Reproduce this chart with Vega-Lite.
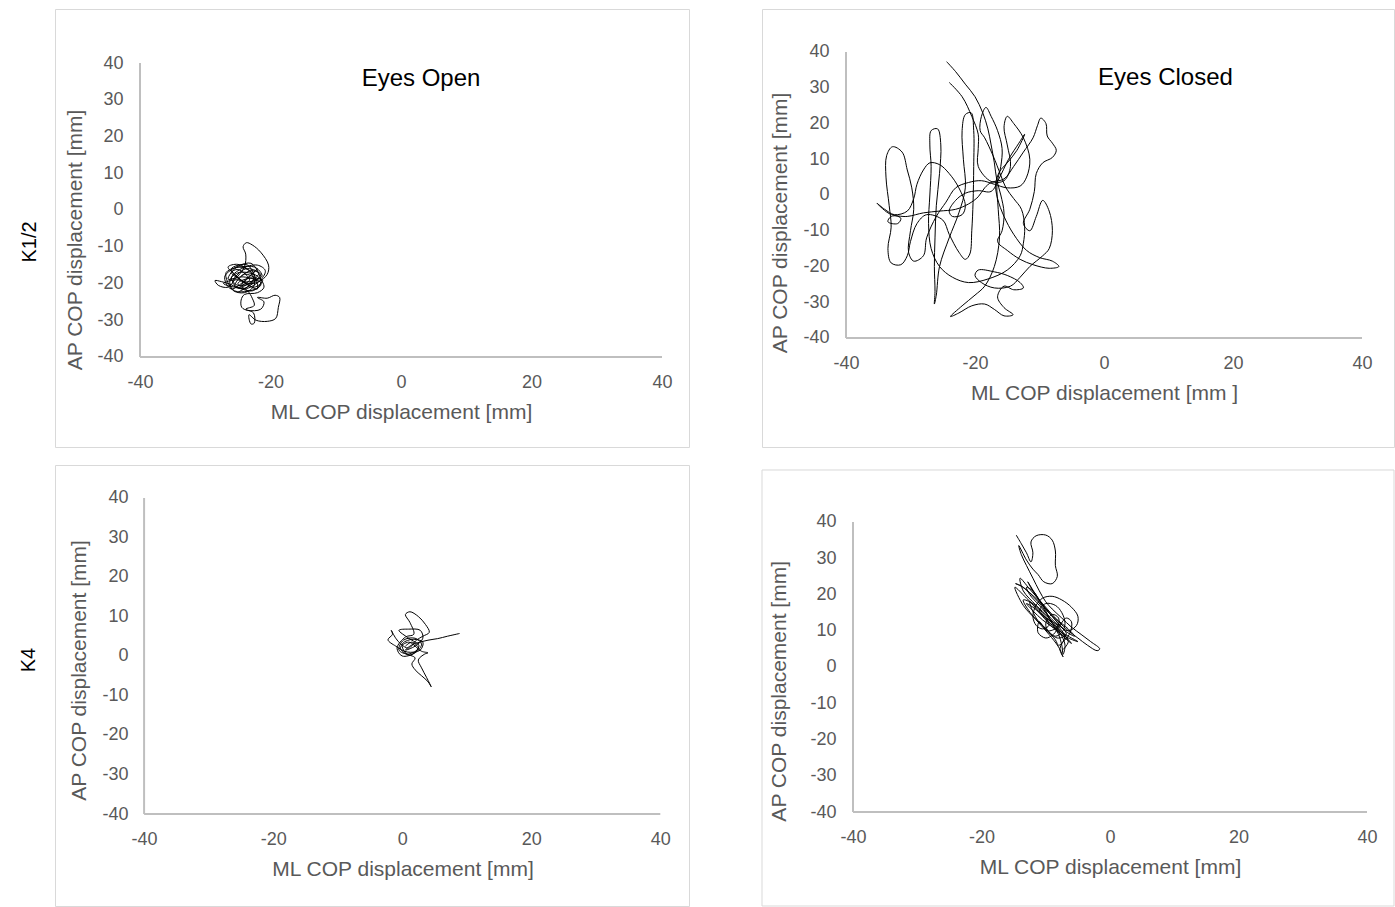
{
  "$schema": "https://vega.github.io/schema/vega-lite/v6.json",
  "background": "white",
  "padding": {"left": 18, "top": 8, "right": 0, "bottom": 0},
  "bounds": "flush",
  "align": "none",
  "columns": 2,
  "spacing": {"row": 18, "column": 73},
  "config": {
    "font": "Liberation Sans",
    "view": {"stroke": "#d9d9d9", "strokeWidth": 1},
    "axis": {"domain": false, "ticks": false, "tickSize": 0, "grid": false, "labelFontSize": 18, "labelColor": "#595959", "titleFontSize": 21, "titleColor": "#595959", "titleFontWeight": "normal", "labelFlush": false, "labelOverlap": false, "titleAlign": "center", "titleBaseline": "alphabetic", "labelExpr": "'' + datum.value"},
    "axisX": {"labelPadding": 30, "labelBaseline": "alphabetic", "titleY": 61, "titleAngle": 0},
    "axisY": {"labelPadding": 17, "labelBaseline": "middle", "titleAngle": 270}
  },
  "datasets": {
    "tl": [
      {"i":1,"x":-24.5,"y":-18.0},{"i":2,"x":-23.0,"y":-16.5},{"i":3,"x":-21.5,"y":-17.5},{"i":4,"x":-22.5,"y":-19.5},{"i":5,"x":-25.0,"y":-20.5},{"i":6,"x":-26.0,"y":-18.5},{"i":7,"x":-24.5,"y":-16.0},{"i":8,"x":-22.0,"y":-15.0},{"i":9,"x":-20.8,"y":-16.5},{"i":10,"x":-21.5,"y":-19.0},
      {"i":11,"x":-24.0,"y":-21.5},{"i":12,"x":-26.5,"y":-20.0},{"i":13,"x":-27.5,"y":-19.5},{"i":14,"x":-28.5,"y":-19.2},{"i":15,"x":-28.0,"y":-20.5},{"i":16,"x":-26.5,"y":-21.0},{"i":17,"x":-25.5,"y":-19.0},{"i":18,"x":-24.0,"y":-15.5},{"i":19,"x":-23.8,"y":-12.0},{"i":20,"x":-24.2,"y":-10.0},
      {"i":21,"x":-23.7,"y":-8.9},{"i":22,"x":-22.8,"y":-9.5},{"i":23,"x":-21.5,"y":-11.5},{"i":24,"x":-20.3,"y":-15.0},{"i":25,"x":-20.5,"y":-17.5},{"i":26,"x":-21.8,"y":-19.5},{"i":27,"x":-23.5,"y":-20.0},{"i":28,"x":-25.5,"y":-17.5},{"i":29,"x":-26.5,"y":-15.5},{"i":30,"x":-25.0,"y":-14.8},
      {"i":31,"x":-23.0,"y":-17.0},{"i":32,"x":-22.5,"y":-20.5},{"i":33,"x":-24.0,"y":-22.5},{"i":34,"x":-25.8,"y":-21.8},{"i":35,"x":-26.2,"y":-19.0},{"i":36,"x":-24.8,"y":-17.0},{"i":37,"x":-22.0,"y":-18.0},{"i":38,"x":-21.0,"y":-21.0},{"i":39,"x":-22.0,"y":-22.5},{"i":40,"x":-24.0,"y":-23.0},
      {"i":41,"x":-24.5,"y":-24.5},{"i":42,"x":-24.4,"y":-26.5},{"i":43,"x":-23.5,"y":-27.3},{"i":44,"x":-21.5,"y":-27.0},{"i":45,"x":-21.0,"y":-25.0},{"i":46,"x":-22.0,"y":-23.8},{"i":47,"x":-20.5,"y":-24.0},{"i":48,"x":-19.3,"y":-23.2},{"i":49,"x":-18.6,"y":-23.8},{"i":50,"x":-18.8,"y":-26.5},
      {"i":51,"x":-19.2,"y":-29.5},{"i":52,"x":-20.5,"y":-30.3},{"i":53,"x":-22.2,"y":-30.0},{"i":54,"x":-23.3,"y":-28.5},{"i":55,"x":-23.0,"y":-31.0},{"i":56,"x":-22.5,"y":-30.8},{"i":57,"x":-22.6,"y":-28.0},{"i":58,"x":-23.8,"y":-27.0},{"i":59,"x":-22.5,"y":-26.0},{"i":60,"x":-22.8,"y":-24.0},
      {"i":61,"x":-23.5,"y":-22.0},{"i":62,"x":-25.0,"y":-20.0},{"i":63,"x":-23.0,"y":-18.5},{"i":64,"x":-21.2,"y":-19.2},{"i":65,"x":-22.5,"y":-21.0},{"i":66,"x":-24.8,"y":-18.8},{"i":67,"x":-26.0,"y":-17.0},{"i":68,"x":-25.0,"y":-16.2},{"i":69,"x":-23.2,"y":-19.0},{"i":70,"x":-24.5,"y":-20.5},
      {"i":71,"x":-22.0,"y":-16.0},{"i":72,"x":-26.0,"y":-21.5},{"i":73,"x":-27.0,"y":-18.0},{"i":74,"x":-23.0,"y":-14.5},{"i":75,"x":-21.5,"y":-20.5},{"i":76,"x":-25.5,"y":-22.0},{"i":77,"x":-26.8,"y":-17.0},{"i":78,"x":-22.5,"y":-15.5},{"i":79,"x":-21.3,"y":-18.0},{"i":80,"x":-24.0,"y":-19.5},
      {"i":81,"x":-26.0,"y":-16.0},{"i":82,"x":-23.5,"y":-15.0},{"i":83,"x":-22.0,"y":-21.5},{"i":84,"x":-25.0,"y":-19.0},{"i":85,"x":-27.2,"y":-20.0},{"i":86,"x":-24.5,"y":-21.0},{"i":87,"x":-21.8,"y":-17.2},{"i":88,"x":-23.8,"y":-16.0},{"i":89,"x":-25.8,"y":-19.8},{"i":90,"x":-22.8,"y":-22.0},
      {"i":91,"x":-21.5,"y":-19.8},{"i":92,"x":-24.2,"y":-18.2},{"i":93,"x":-26.5,"y":-18.8},{"i":94,"x":-25.0,"y":-15.5},{"i":95,"x":-22.5,"y":-17.8},{"i":96,"x":-23.8,"y":-21.2},{"i":97,"x":-25.5,"y":-20.8},{"i":98,"x":-24.0,"y":-17.5},{"i":99,"x":-22.2,"y":-19.0},{"i":100,"x":-24.8,"y":-22.2}
    ],
    "tr": [
      {"i":1,"x":-24.4,"y":37.3},{"i":2,"x":-23.0,"y":34.5},{"i":3,"x":-21.5,"y":31.0},{"i":4,"x":-20.0,"y":27.5},{"i":5,"x":-18.8,"y":23.0},{"i":6,"x":-18.0,"y":18.5},{"i":7,"x":-17.5,"y":14.0},{"i":8,"x":-17.0,"y":9.0},{"i":9,"x":-16.6,"y":4.0},{"i":10,"x":-16.0,"y":0.0},
      {"i":11,"x":-15.5,"y":-5.0},{"i":12,"x":-15.8,"y":-10.0},{"i":13,"x":-16.5,"y":-13.0},{"i":14,"x":-15.0,"y":-15.5},{"i":15,"x":-13.0,"y":-18.0},{"i":16,"x":-11.0,"y":-19.5},{"i":17,"x":-8.5,"y":-20.5},{"i":18,"x":-7.0,"y":-20.0},{"i":19,"x":-8.0,"y":-18.5},{"i":20,"x":-10.0,"y":-17.5},
      {"i":21,"x":-12.0,"y":-15.5},{"i":22,"x":-14.0,"y":-11.0},{"i":23,"x":-15.5,"y":-6.0},{"i":24,"x":-16.5,"y":-1.0},{"i":25,"x":-16.8,"y":3.0},{"i":26,"x":-16.2,"y":6.5},{"i":27,"x":-15.0,"y":9.0},{"i":28,"x":-13.5,"y":12.5},{"i":29,"x":-12.3,"y":17.0},{"i":30,"x":-13.2,"y":14.5},
      {"i":31,"x":-14.8,"y":10.0},{"i":32,"x":-16.3,"y":4.5},{"i":33,"x":-17.5,"y":1.0},{"i":34,"x":-19.5,"y":1.2},{"i":35,"x":-21.5,"y":0.5},{"i":36,"x":-23.0,"y":-1.5},{"i":37,"x":-24.0,"y":-4.5},{"i":38,"x":-23.5,"y":-6.0},{"i":39,"x":-22.0,"y":-5.5},{"i":40,"x":-21.5,"y":-3.0},
      {"i":41,"x":-22.5,"y":2.0},{"i":42,"x":-24.0,"y":6.0},{"i":43,"x":-25.5,"y":8.5},{"i":44,"x":-27.0,"y":9.0},{"i":45,"x":-28.0,"y":7.0},{"i":46,"x":-29.0,"y":3.0},{"i":47,"x":-29.5,"y":-1.0},{"i":48,"x":-30.5,"y":-4.5},{"i":49,"x":-32.5,"y":-5.5},{"i":50,"x":-34.0,"y":-4.0},
      {"i":51,"x":-35.2,"y":-2.3},{"i":52,"x":-33.5,"y":-5.0},{"i":53,"x":-31.5,"y":-6.5},{"i":54,"x":-32.0,"y":-8.0},{"i":55,"x":-33.5,"y":-7.5},{"i":56,"x":-33.0,"y":-6.0},{"i":57,"x":-30.5,"y":-6.0},{"i":58,"x":-28.0,"y":-5.0},{"i":59,"x":-25.5,"y":-4.5},{"i":60,"x":-23.0,"y":-4.0},
      {"i":61,"x":-21.0,"y":-2.5},{"i":62,"x":-19.5,"y":-0.5},{"i":63,"x":-18.5,"y":2.0},{"i":64,"x":-17.5,"y":3.5},{"i":65,"x":-15.5,"y":4.5},{"i":66,"x":-14.0,"y":8.0},{"i":67,"x":-12.5,"y":12.0},{"i":68,"x":-11.0,"y":16.0},{"i":69,"x":-10.3,"y":19.5},{"i":70,"x":-9.8,"y":21.5},
      {"i":71,"x":-9.0,"y":20.0},{"i":72,"x":-8.8,"y":16.5},{"i":73,"x":-8.0,"y":14.5},{"i":74,"x":-7.4,"y":12.5},{"i":75,"x":-8.0,"y":10.5},{"i":76,"x":-9.5,"y":9.0},{"i":77,"x":-10.5,"y":6.0},{"i":78,"x":-10.8,"y":1.0},{"i":79,"x":-11.5,"y":-4.0},{"i":80,"x":-12.5,"y":-8.0},
      {"i":81,"x":-11.5,"y":-10.0},{"i":82,"x":-10.5,"y":-6.0},{"i":83,"x":-9.5,"y":-1.5},{"i":84,"x":-8.5,"y":-4.5},{"i":85,"x":-8.0,"y":-10.0},{"i":86,"x":-8.5,"y":-15.0},{"i":87,"x":-9.5,"y":-17.0},{"i":88,"x":-11.5,"y":-20.0},{"i":89,"x":-13.0,"y":-23.0},{"i":90,"x":-14.5,"y":-25.5},
      {"i":91,"x":-17.0,"y":-26.0},{"i":92,"x":-19.0,"y":-24.5},{"i":93,"x":-20.0,"y":-22.5},{"i":94,"x":-19.5,"y":-21.0},{"i":95,"x":-17.0,"y":-21.5},{"i":96,"x":-15.0,"y":-22.5},{"i":97,"x":-13.0,"y":-24.5},{"i":98,"x":-12.5,"y":-26.0},{"i":99,"x":-14.0,"y":-26.5},{"i":100,"x":-15.5,"y":-25.5},
      {"i":101,"x":-16.5,"y":-28.5},{"i":102,"x":-15.5,"y":-31.5},{"i":103,"x":-14.1,"y":-33.5},{"i":104,"x":-15.5,"y":-33.8},{"i":105,"x":-17.0,"y":-32.0},{"i":106,"x":-18.5,"y":-30.5},{"i":107,"x":-20.5,"y":-31.0},{"i":108,"x":-22.5,"y":-33.0},{"i":109,"x":-23.8,"y":-34.0},{"i":110,"x":-22.0,"y":-31.0},
      {"i":111,"x":-20.0,"y":-28.0},{"i":112,"x":-18.5,"y":-25.5},{"i":113,"x":-17.0,"y":-20.0},{"i":114,"x":-16.2,"y":-12.0},{"i":115,"x":-16.4,"y":-4.0},{"i":116,"x":-16.6,"y":3.0},{"i":117,"x":-16.0,"y":8.0},{"i":118,"x":-15.8,"y":13.0},{"i":119,"x":-16.5,"y":18.0},{"i":120,"x":-17.5,"y":22.0},
      {"i":121,"x":-18.3,"y":24.5},{"i":122,"x":-19.0,"y":22.0},{"i":123,"x":-19.2,"y":18.0},{"i":124,"x":-18.5,"y":16.0},{"i":125,"x":-17.2,"y":11.0},{"i":126,"x":-16.0,"y":5.5},{"i":127,"x":-15.2,"y":2.0},{"i":128,"x":-14.0,"y":-1.0},{"i":129,"x":-12.8,"y":-4.0},{"i":130,"x":-12.3,"y":-9.0},
      {"i":131,"x":-12.5,"y":-13.5},{"i":132,"x":-13.0,"y":-17.0},{"i":133,"x":-15.0,"y":-21.0},{"i":134,"x":-18.0,"y":-23.5},{"i":135,"x":-21.0,"y":-24.5},{"i":136,"x":-23.5,"y":-23.0},{"i":137,"x":-25.5,"y":-20.0},{"i":138,"x":-26.8,"y":-15.0},{"i":139,"x":-27.2,"y":-8.0},{"i":140,"x":-27.0,"y":0.0},
      {"i":141,"x":-26.8,"y":8.0},{"i":142,"x":-27.0,"y":14.0},{"i":143,"x":-26.8,"y":18.0},{"i":144,"x":-25.8,"y":18.5},{"i":145,"x":-25.3,"y":14.0},{"i":146,"x":-25.5,"y":6.0},{"i":147,"x":-26.0,"y":-3.0},{"i":148,"x":-26.2,"y":-12.0},{"i":149,"x":-26.3,"y":-20.0},{"i":150,"x":-26.2,"y":-27.0},
      {"i":151,"x":-26.3,"y":-30.5},{"i":152,"x":-26.0,"y":-28.0},{"i":153,"x":-25.5,"y":-20.0},{"i":154,"x":-24.0,"y":-12.0},{"i":155,"x":-22.5,"y":-5.0},{"i":156,"x":-21.5,"y":2.0},{"i":157,"x":-21.8,"y":10.0},{"i":158,"x":-22.0,"y":18.0},{"i":159,"x":-21.5,"y":22.5},{"i":160,"x":-20.6,"y":23.0},
      {"i":161,"x":-20.2,"y":18.0},{"i":162,"x":-20.2,"y":8.0},{"i":163,"x":-20.3,"y":-2.0},{"i":164,"x":-20.5,"y":-10.0},{"i":165,"x":-20.8,"y":-16.5},{"i":166,"x":-21.5,"y":-18.0},{"i":167,"x":-22.5,"y":-16.0},{"i":168,"x":-24.0,"y":-11.0},{"i":169,"x":-25.0,"y":-7.0},{"i":170,"x":-27.5,"y":-5.5},
      {"i":171,"x":-29.0,"y":-8.0},{"i":172,"x":-30.0,"y":-13.0},{"i":173,"x":-30.5,"y":-17.0},{"i":174,"x":-31.5,"y":-19.5},{"i":175,"x":-33.0,"y":-19.0},{"i":176,"x":-33.5,"y":-15.0},{"i":177,"x":-33.0,"y":-9.0},{"i":178,"x":-33.3,"y":-3.0},{"i":179,"x":-33.8,"y":5.0},{"i":180,"x":-33.7,"y":11.0},
      {"i":181,"x":-32.8,"y":13.5},{"i":182,"x":-31.3,"y":12.0},{"i":183,"x":-30.5,"y":7.0},{"i":184,"x":-29.8,"y":2.0},{"i":185,"x":-29.5,"y":-4.0},{"i":186,"x":-30.0,"y":-10.0},{"i":187,"x":-30.3,"y":-16.0},{"i":188,"x":-29.5,"y":-18.5},{"i":189,"x":-28.0,"y":-17.0},{"i":190,"x":-27.5,"y":-12.0},
      {"i":191,"x":-26.0,"y":-6.0},{"i":192,"x":-24.5,"y":-2.0},{"i":193,"x":-23.0,"y":2.0},{"i":194,"x":-21.0,"y":3.5},{"i":195,"x":-19.0,"y":4.0},{"i":196,"x":-17.0,"y":3.0},{"i":197,"x":-15.0,"y":2.0},{"i":198,"x":-13.0,"y":2.5},{"i":199,"x":-12.0,"y":5.0},{"i":200,"x":-11.5,"y":10.0},
      {"i":201,"x":-12.5,"y":16.0},{"i":202,"x":-14.0,"y":20.0},{"i":203,"x":-15.0,"y":22.0},{"i":204,"x":-15.5,"y":19.0},{"i":205,"x":-15.0,"y":14.0},{"i":206,"x":-14.5,"y":8.0},{"i":207,"x":-15.5,"y":4.0},{"i":208,"x":-17.5,"y":3.8},{"i":209,"x":-19.5,"y":8.0},{"i":210,"x":-19.5,"y":13.0},
      {"i":211,"x":-19.5,"y":17.0},{"i":212,"x":-20.5,"y":22.0},{"i":213,"x":-22.0,"y":27.5},{"i":214,"x":-24.0,"y":31.5}
    ],
    "bl": [
      {"i":1,"x":0.5,"y":2.5},{"i":2,"x":1.5,"y":3.5},{"i":3,"x":2.5,"y":2.0},{"i":4,"x":1.0,"y":0.5},{"i":5,"x":-0.5,"y":1.5},{"i":6,"x":0.2,"y":4.0},{"i":7,"x":2.0,"y":4.5},{"i":8,"x":3.0,"y":3.0},{"i":9,"x":2.0,"y":0.8},{"i":10,"x":0.0,"y":0.0},
      {"i":11,"x":-0.8,"y":2.0},{"i":12,"x":0.5,"y":4.8},{"i":13,"x":1.8,"y":5.5},{"i":14,"x":1.2,"y":8.5},{"i":15,"x":0.5,"y":10.5},{"i":16,"x":1.2,"y":11.2},{"i":17,"x":2.5,"y":10.0},{"i":18,"x":3.6,"y":8.0},{"i":19,"x":4.2,"y":6.0},{"i":20,"x":3.2,"y":5.0},
      {"i":21,"x":2.2,"y":4.0},{"i":22,"x":1.0,"y":2.0},{"i":23,"x":-0.2,"y":3.0},{"i":24,"x":-1.0,"y":4.5},{"i":25,"x":-1.7,"y":6.5},{"i":26,"x":-1.5,"y":5.5},{"i":27,"x":-2.2,"y":4.1},{"i":28,"x":-1.0,"y":2.5},{"i":29,"x":0.8,"y":1.0},{"i":30,"x":2.8,"y":1.5},
      {"i":31,"x":3.2,"y":3.5},{"i":32,"x":1.5,"y":4.2},{"i":33,"x":0.0,"y":3.0},{"i":34,"x":0.5,"y":0.8},{"i":35,"x":2.0,"y":-0.5},{"i":36,"x":1.5,"y":-2.0},{"i":37,"x":2.0,"y":-3.5},{"i":38,"x":3.0,"y":-5.0},{"i":39,"x":4.0,"y":-6.5},{"i":40,"x":4.5,"y":-7.8},
      {"i":41,"x":3.8,"y":-5.5},{"i":42,"x":3.0,"y":-3.0},{"i":43,"x":2.5,"y":-1.0},{"i":44,"x":3.5,"y":0.5},{"i":45,"x":4.0,"y":0.8},{"i":46,"x":3.0,"y":1.2},{"i":47,"x":1.0,"y":3.5},{"i":48,"x":-0.3,"y":2.0},{"i":49,"x":1.2,"y":0.2},{"i":50,"x":2.6,"y":2.6},
      {"i":51,"x":1.0,"y":4.5},{"i":52,"x":-0.5,"y":6.5},{"i":53,"x":1.0,"y":6.8},{"i":54,"x":2.8,"y":6.5},{"i":55,"x":3.2,"y":4.5},{"i":56,"x":2.0,"y":2.5},{"i":57,"x":0.5,"y":1.5},{"i":58,"x":1.5,"y":2.8},{"i":59,"x":4.0,"y":4.0},{"i":60,"x":5.5,"y":4.4},
      {"i":61,"x":7.0,"y":5.0},{"i":62,"x":8.9,"y":5.7}
    ],
    "br": [
      {"i":1,"x":-14.6,"y":36.4},{"i":2,"x":-13.8,"y":34.0},{"i":3,"x":-13.0,"y":31.5},{"i":4,"x":-12.3,"y":29.0},{"i":5,"x":-12.0,"y":31.5},{"i":6,"x":-12.3,"y":34.5},{"i":7,"x":-11.5,"y":36.2},{"i":8,"x":-10.0,"y":36.4},{"i":9,"x":-9.0,"y":35.0},{"i":10,"x":-8.5,"y":32.0},
      {"i":11,"x":-8.5,"y":28.0},{"i":12,"x":-8.2,"y":25.0},{"i":13,"x":-9.0,"y":23.0},{"i":14,"x":-10.3,"y":23.5},{"i":15,"x":-11.2,"y":25.5},{"i":16,"x":-12.0,"y":27.0},{"i":17,"x":-13.0,"y":29.5},{"i":18,"x":-14.2,"y":33.5},{"i":19,"x":-13.8,"y":31.0},{"i":20,"x":-13.0,"y":28.0},
      {"i":21,"x":-12.0,"y":24.5},{"i":22,"x":-11.0,"y":21.0},{"i":23,"x":-10.0,"y":18.0},{"i":24,"x":-9.0,"y":16.0},{"i":25,"x":-7.5,"y":13.5},{"i":26,"x":-6.0,"y":11.0},{"i":27,"x":-4.5,"y":9.0},{"i":28,"x":-3.0,"y":7.0},{"i":29,"x":-1.6,"y":5.0},{"i":30,"x":-2.0,"y":4.5},
      {"i":31,"x":-3.5,"y":6.0},{"i":32,"x":-5.0,"y":8.0},{"i":33,"x":-6.5,"y":10.0},{"i":34,"x":-8.0,"y":12.5},{"i":35,"x":-9.5,"y":15.0},{"i":36,"x":-11.0,"y":18.0},{"i":37,"x":-12.5,"y":20.5},{"i":38,"x":-14.0,"y":22.5},{"i":39,"x":-14.7,"y":23.0},{"i":40,"x":-13.5,"y":22.0},
      {"i":41,"x":-12.0,"y":19.5},{"i":42,"x":-10.5,"y":16.5},{"i":43,"x":-9.5,"y":13.5},{"i":44,"x":-8.5,"y":11.0},{"i":45,"x":-7.5,"y":8.5},{"i":46,"x":-7.0,"y":6.0},{"i":47,"x":-7.3,"y":3.5},{"i":48,"x":-7.5,"y":6.0},{"i":49,"x":-8.0,"y":9.0},{"i":50,"x":-9.0,"y":12.0},
      {"i":51,"x":-10.0,"y":15.5},{"i":52,"x":-11.0,"y":18.5},{"i":53,"x":-12.0,"y":21.0},{"i":54,"x":-13.0,"y":22.0},{"i":55,"x":-12.5,"y":20.0},{"i":56,"x":-11.0,"y":17.0},{"i":57,"x":-9.5,"y":14.0},{"i":58,"x":-8.0,"y":11.5},{"i":59,"x":-6.5,"y":10.0},{"i":60,"x":-5.2,"y":11.5},
      {"i":61,"x":-5.0,"y":14.0},{"i":62,"x":-6.0,"y":16.5},{"i":63,"x":-7.5,"y":18.5},{"i":64,"x":-9.0,"y":19.5},{"i":65,"x":-10.5,"y":19.0},{"i":66,"x":-11.5,"y":17.0},{"i":67,"x":-12.0,"y":14.0},{"i":68,"x":-11.5,"y":11.5},{"i":69,"x":-10.5,"y":10.5},{"i":70,"x":-9.5,"y":11.5},
      {"i":71,"x":-10.0,"y":13.5},{"i":72,"x":-11.0,"y":15.5},{"i":73,"x":-10.0,"y":17.5},{"i":74,"x":-8.5,"y":17.0},{"i":75,"x":-7.5,"y":15.0},{"i":76,"x":-7.0,"y":12.0},{"i":77,"x":-7.5,"y":9.5},{"i":78,"x":-8.5,"y":8.5},{"i":79,"x":-9.5,"y":9.5},{"i":80,"x":-10.0,"y":12.0},
      {"i":81,"x":-9.0,"y":14.5},{"i":82,"x":-8.0,"y":13.5},{"i":83,"x":-8.2,"y":11.0},{"i":84,"x":-9.8,"y":10.0},{"i":85,"x":-11.0,"y":12.5},{"i":86,"x":-11.2,"y":9.5},{"i":87,"x":-10.0,"y":8.0},{"i":88,"x":-8.8,"y":9.0},{"i":89,"x":-7.8,"y":11.5},{"i":90,"x":-6.8,"y":13.5},
      {"i":91,"x":-6.0,"y":12.5},{"i":92,"x":-6.2,"y":9.5},{"i":93,"x":-7.0,"y":7.5},{"i":94,"x":-8.0,"y":6.0},{"i":95,"x":-8.5,"y":7.5},{"i":96,"x":-10.0,"y":10.5},{"i":97,"x":-11.5,"y":13.5},{"i":98,"x":-12.5,"y":18.0},{"i":99,"x":-11.0,"y":15.0},{"i":100,"x":-9.5,"y":12.0},
      {"i":101,"x":-8.0,"y":9.5},{"i":102,"x":-6.5,"y":8.0},{"i":103,"x":-5.0,"y":7.0},{"i":104,"x":-6.5,"y":8.5},{"i":105,"x":-8.5,"y":10.5},{"i":106,"x":-10.5,"y":13.0},{"i":107,"x":-12.0,"y":15.5},{"i":108,"x":-13.0,"y":17.5},{"i":109,"x":-12.0,"y":16.5},{"i":110,"x":-10.0,"y":13.5},
      {"i":111,"x":-8.5,"y":12.0},{"i":112,"x":-7.5,"y":10.0},{"i":113,"x":-7.0,"y":8.5},{"i":114,"x":-7.8,"y":5.0},{"i":115,"x":-7.3,"y":2.8},{"i":116,"x":-8.0,"y":5.5},{"i":117,"x":-9.5,"y":9.0},{"i":118,"x":-11.5,"y":13.0},{"i":119,"x":-13.5,"y":17.0},{"i":120,"x":-14.8,"y":22.0},
      {"i":121,"x":-13.0,"y":19.0},{"i":122,"x":-11.0,"y":15.5},{"i":123,"x":-9.0,"y":11.5},{"i":124,"x":-7.0,"y":8.0},{"i":125,"x":-6.0,"y":6.5},{"i":126,"x":-7.5,"y":9.5},{"i":127,"x":-9.5,"y":13.0},{"i":128,"x":-11.5,"y":17.0},{"i":129,"x":-13.5,"y":21.0},{"i":130,"x":-14.0,"y":24.5},
      {"i":131,"x":-12.5,"y":21.5},{"i":132,"x":-10.5,"y":17.5},{"i":133,"x":-8.5,"y":13.5},{"i":134,"x":-6.5,"y":10.5},{"i":135,"x":-5.5,"y":8.5},{"i":136,"x":-7.0,"y":10.0},{"i":137,"x":-9.0,"y":14.0},{"i":138,"x":-11.0,"y":18.5},{"i":139,"x":-12.8,"y":23.5},{"i":140,"x":-11.5,"y":19.5},
      {"i":141,"x":-9.8,"y":15.5},{"i":142,"x":-8.0,"y":12.0},{"i":143,"x":-6.8,"y":9.0},{"i":144,"x":-8.2,"y":8.0},{"i":145,"x":-10.2,"y":11.0},{"i":146,"x":-12.2,"y":14.5},{"i":147,"x":-13.5,"y":18.5},{"i":148,"x":-12.0,"y":17.5},{"i":149,"x":-10.0,"y":14.5},{"i":150,"x":-8.0,"y":10.5},
      {"i":151,"x":-6.5,"y":7.0},{"i":152,"x":-7.5,"y":4.5}
    ]
  },
  "concat": [
    {
      "width": 634, "height": 438,
      "layer": [
        {"data": {"name": "tl"},
         "mark": {"type": "line", "color": "#000000", "strokeWidth": 1, "interpolate": "catmull-rom"},
         "encoding": {
           "x": {"field": "x", "type": "quantitative", "scale": {"domain": [-53.027, 44.138], "nice": false, "zero": false}, "axis": {"title": "ML COP displacement [mm]", "values": [-40, -20, 0, 20, 40], "offset": -90, "titleX": 346}},
           "y": {"field": "y", "type": "quantitative", "scale": {"domain": [-64.49, 54.694], "nice": false, "zero": false}, "axis": {"title": "AP COP displacement [mm]", "values": [-40, -30, -20, -10, 0, 10, 20, 30, 40], "offset": -85, "titleX": -58.3, "titleY": 230.5}},
           "order": {"field": "i", "type": "quantitative"}
         }},
        {"data": {"values": [{}]},
         "mark": {"type": "rule", "color": "#bfbfbf", "strokeWidth": 2},
         "encoding": {
           "x": {"datum": -40, "type": "quantitative", "scale": {"domain": [-53.027, 44.138], "nice": false, "zero": false}, "axis": {"title": "ML COP displacement [mm]", "values": [-40, -20, 0, 20, 40], "offset": -90, "titleX": 346}},
           "y": {"datum": -40, "type": "quantitative", "scale": {"domain": [-64.49, 54.694], "nice": false, "zero": false}, "axis": {"title": "AP COP displacement [mm]", "values": [-40, -30, -20, -10, 0, 10, 20, 30, 40], "offset": -85, "titleX": -58.3, "titleY": 230.5}},
           "y2": {"datum": 40}
         }},
        {"data": {"values": [{}]},
         "mark": {"type": "rule", "color": "#bfbfbf", "strokeWidth": 2},
         "encoding": {
           "x": {"datum": -40, "type": "quantitative", "scale": {"domain": [-53.027, 44.138], "nice": false, "zero": false}, "axis": {"title": "ML COP displacement [mm]", "values": [-40, -20, 0, 20, 40], "offset": -90, "titleX": 346}},
           "x2": {"datum": 40},
           "y": {"datum": -40, "type": "quantitative", "scale": {"domain": [-64.49, 54.694], "nice": false, "zero": false}, "axis": {"title": "AP COP displacement [mm]", "values": [-40, -30, -20, -10, 0, 10, 20, 30, 40], "offset": -85, "titleX": -58.3, "titleY": 230.5}}
         }},
        {"data": {"values": [{}]},
         "mark": {"type": "text", "text": "Eyes Open", "fontSize": 24, "align": "center", "baseline": "alphabetic", "color": "#000000"},
         "encoding": {
           "x": {"datum": 3.07, "type": "quantitative", "scale": {"domain": [-53.027, 44.138], "nice": false, "zero": false}, "axis": {"title": "ML COP displacement [mm]", "values": [-40, -20, 0, 20, 40], "offset": -90, "titleX": 346}},
           "y": {"datum": 33.74, "type": "quantitative", "scale": {"domain": [-64.49, 54.694], "nice": false, "zero": false}, "axis": {"title": "AP COP displacement [mm]", "values": [-40, -30, -20, -10, 0, 10, 20, 30, 40], "offset": -85, "titleX": -58.3, "titleY": 230.5}}
         }},
        {"data": {"values": [{}]},
         "mark": {"type": "text", "text": "K1/2", "fontSize": 20, "angle": 270, "align": "center", "baseline": "middle", "color": "#000000"},
         "encoding": {
           "x": {"datum": -56.86, "type": "quantitative", "scale": {"domain": [-53.027, 44.138], "nice": false, "zero": false}, "axis": {"title": "ML COP displacement [mm]", "values": [-40, -20, 0, 20, 40], "offset": -90, "titleX": 346}},
           "y": {"datum": -8.71, "type": "quantitative", "scale": {"domain": [-64.49, 54.694], "nice": false, "zero": false}, "axis": {"title": "AP COP displacement [mm]", "values": [-40, -30, -20, -10, 0, 10, 20, 30, 40], "offset": -85, "titleX": -58.3, "titleY": 230.5}}
         }}
      ]
    },
    {
      "width": 632, "height": 438,
      "layer": [
        {"data": {"name": "tr"},
         "mark": {"type": "line", "color": "#000000", "strokeWidth": 1, "interpolate": "catmull-rom"},
         "encoding": {
           "x": {"field": "x", "type": "quantitative", "scale": {"domain": [-53.023, 44.961], "nice": false, "zero": false}, "axis": {"title": "ML COP displacement [mm ]", "values": [-40, -20, 0, 20, 40], "offset": -109, "titleX": 342}},
           "y": {"field": "y", "type": "quantitative", "scale": {"domain": [-70.49, 52.028], "nice": false, "zero": false}, "axis": {"title": "AP COP displacement [mm]", "values": [-40, -30, -20, -10, 0, 10, 20, 30, 40], "offset": -84, "titleX": -59.3, "titleY": 213.5}},
           "order": {"field": "i", "type": "quantitative"}
         }},
        {"data": {"values": [{}]},
         "mark": {"type": "rule", "color": "#bfbfbf", "strokeWidth": 2},
         "encoding": {
           "x": {"datum": -40, "type": "quantitative", "scale": {"domain": [-53.023, 44.961], "nice": false, "zero": false}, "axis": {"title": "ML COP displacement [mm ]", "values": [-40, -20, 0, 20, 40], "offset": -109, "titleX": 342}},
           "y": {"datum": -40, "type": "quantitative", "scale": {"domain": [-70.49, 52.028], "nice": false, "zero": false}, "axis": {"title": "AP COP displacement [mm]", "values": [-40, -30, -20, -10, 0, 10, 20, 30, 40], "offset": -84, "titleX": -59.3, "titleY": 213.5}},
           "y2": {"datum": 40}
         }},
        {"data": {"values": [{}]},
         "mark": {"type": "rule", "color": "#bfbfbf", "strokeWidth": 2},
         "encoding": {
           "x": {"datum": -40, "type": "quantitative", "scale": {"domain": [-53.023, 44.961], "nice": false, "zero": false}, "axis": {"title": "ML COP displacement [mm ]", "values": [-40, -20, 0, 20, 40], "offset": -109, "titleX": 342}},
           "x2": {"datum": 40},
           "y": {"datum": -40, "type": "quantitative", "scale": {"domain": [-70.49, 52.028], "nice": false, "zero": false}, "axis": {"title": "AP COP displacement [mm]", "values": [-40, -30, -20, -10, 0, 10, 20, 30, 40], "offset": -84, "titleX": -59.3, "titleY": 213.5}}
         }},
        {"data": {"values": [{}]},
         "mark": {"type": "text", "text": "Eyes Closed", "fontSize": 24, "align": "center", "baseline": "alphabetic", "color": "#000000"},
         "encoding": {
           "x": {"datum": 9.53, "type": "quantitative", "scale": {"domain": [-53.023, 44.961], "nice": false, "zero": false}, "axis": {"title": "ML COP displacement [mm ]", "values": [-40, -20, 0, 20, 40], "offset": -109, "titleX": 342}},
           "y": {"datum": 30.77, "type": "quantitative", "scale": {"domain": [-70.49, 52.028], "nice": false, "zero": false}, "axis": {"title": "AP COP displacement [mm]", "values": [-40, -30, -20, -10, 0, 10, 20, 30, 40], "offset": -84, "titleX": -59.3, "titleY": 213.5}}
         }}
      ]
    },
    {
      "width": 634, "height": 441,
      "layer": [
        {"data": {"name": "bl"},
         "mark": {"type": "line", "color": "#000000", "strokeWidth": 1, "interpolate": "catmull-rom"},
         "encoding": {
           "x": {"field": "x", "type": "quantitative", "scale": {"domain": [-53.806, 44.449], "nice": false, "zero": false}, "axis": {"title": "ML COP displacement [mm]", "values": [-40, -20, 0, 20, 40], "offset": -92, "titleX": 347.5}},
           "y": {"field": "y", "type": "quantitative", "scale": {"domain": [-63.291, 48.354], "nice": false, "zero": false}, "axis": {"title": "AP COP displacement [mm]", "values": [-40, -30, -20, -10, 0, 10, 20, 30, 40], "offset": -90, "titleX": -60, "titleY": 205}},
           "order": {"field": "i", "type": "quantitative"}
         }},
        {"data": {"values": [{}]},
         "mark": {"type": "rule", "color": "#bfbfbf", "strokeWidth": 2},
         "encoding": {
           "x": {"datum": -40, "type": "quantitative", "scale": {"domain": [-53.806, 44.449], "nice": false, "zero": false}, "axis": {"title": "ML COP displacement [mm]", "values": [-40, -20, 0, 20, 40], "offset": -92, "titleX": 347.5}},
           "y": {"datum": -40, "type": "quantitative", "scale": {"domain": [-63.291, 48.354], "nice": false, "zero": false}, "axis": {"title": "AP COP displacement [mm]", "values": [-40, -30, -20, -10, 0, 10, 20, 30, 40], "offset": -90, "titleX": -60, "titleY": 205}},
           "y2": {"datum": 40}
         }},
        {"data": {"values": [{}]},
         "mark": {"type": "rule", "color": "#bfbfbf", "strokeWidth": 2},
         "encoding": {
           "x": {"datum": -40, "type": "quantitative", "scale": {"domain": [-53.806, 44.449], "nice": false, "zero": false}, "axis": {"title": "ML COP displacement [mm]", "values": [-40, -20, 0, 20, 40], "offset": -92, "titleX": 347.5}},
           "x2": {"datum": 40},
           "y": {"datum": -40, "type": "quantitative", "scale": {"domain": [-63.291, 48.354], "nice": false, "zero": false}, "axis": {"title": "AP COP displacement [mm]", "values": [-40, -30, -20, -10, 0, 10, 20, 30, 40], "offset": -90, "titleX": -60, "titleY": 205}}
         }},
        {"data": {"values": [{}]},
         "mark": {"type": "text", "text": "K4", "fontSize": 20, "angle": 270, "align": "center", "baseline": "middle", "color": "#000000"},
         "encoding": {
           "x": {"datum": -57.86, "type": "quantitative", "scale": {"domain": [-53.806, 44.449], "nice": false, "zero": false}, "axis": {"title": "ML COP displacement [mm]", "values": [-40, -20, 0, 20, 40], "offset": -92, "titleX": 347.5}},
           "y": {"datum": -1.01, "type": "quantitative", "scale": {"domain": [-63.291, 48.354], "nice": false, "zero": false}, "axis": {"title": "AP COP displacement [mm]", "values": [-40, -30, -20, -10, 0, 10, 20, 30, 40], "offset": -90, "titleX": -60, "titleY": 205}}
         }}
      ]
    },
    {
      "width": 632, "height": 441,
      "view": {"stroke": null},
      "layer": [
        {"data": {"values": [{}]},
         "mark": {"type": "rect", "fillOpacity": 0, "stroke": "#d9d9d9", "strokeWidth": 1},
         "encoding": {
           "x": {"datum": -54.163, "type": "quantitative", "scale": {"domain": [-54.163, 44.202], "nice": false, "zero": false}, "axis": {"title": "ML COP displacement [mm]", "values": [-40, -20, 0, 20, 40], "offset": -94, "titleX": 348}},
           "x2": {"datum": 44.202},
           "y": {"datum": -65.931, "type": "quantitative", "scale": {"domain": [-65.931, 55.724], "nice": false, "zero": false}, "axis": {"title": "AP COP displacement [mm]", "values": [-40, -30, -20, -10, 0, 10, 20, 30, 40], "offset": -91, "titleX": -68, "titleY": 225.8}},
           "y2": {"datum": 54.345}
         }},
        {"data": {"name": "br"},
         "mark": {"type": "line", "color": "#000000", "strokeWidth": 1, "interpolate": "catmull-rom"},
         "encoding": {
           "x": {"field": "x", "type": "quantitative", "scale": {"domain": [-54.163, 44.202], "nice": false, "zero": false}, "axis": {"title": "ML COP displacement [mm]", "values": [-40, -20, 0, 20, 40], "offset": -94, "titleX": 348}},
           "y": {"field": "y", "type": "quantitative", "scale": {"domain": [-65.931, 55.724], "nice": false, "zero": false}, "axis": {"title": "AP COP displacement [mm]", "values": [-40, -30, -20, -10, 0, 10, 20, 30, 40], "offset": -91, "titleX": -68, "titleY": 225.8}},
           "order": {"field": "i", "type": "quantitative"}
         }},
        {"data": {"values": [{}]},
         "mark": {"type": "rule", "color": "#bfbfbf", "strokeWidth": 2},
         "encoding": {
           "x": {"datum": -40, "type": "quantitative", "scale": {"domain": [-54.163, 44.202], "nice": false, "zero": false}, "axis": {"title": "ML COP displacement [mm]", "values": [-40, -20, 0, 20, 40], "offset": -94, "titleX": 348}},
           "y": {"datum": -40, "type": "quantitative", "scale": {"domain": [-65.931, 55.724], "nice": false, "zero": false}, "axis": {"title": "AP COP displacement [mm]", "values": [-40, -30, -20, -10, 0, 10, 20, 30, 40], "offset": -91, "titleX": -68, "titleY": 225.8}},
           "y2": {"datum": 40}
         }},
        {"data": {"values": [{}]},
         "mark": {"type": "rule", "color": "#bfbfbf", "strokeWidth": 2},
         "encoding": {
           "x": {"datum": -40, "type": "quantitative", "scale": {"domain": [-54.163, 44.202], "nice": false, "zero": false}, "axis": {"title": "ML COP displacement [mm]", "values": [-40, -20, 0, 20, 40], "offset": -94, "titleX": 348}},
           "x2": {"datum": 40},
           "y": {"datum": -40, "type": "quantitative", "scale": {"domain": [-65.931, 55.724], "nice": false, "zero": false}, "axis": {"title": "AP COP displacement [mm]", "values": [-40, -30, -20, -10, 0, 10, 20, 30, 40], "offset": -91, "titleX": -68, "titleY": 225.8}}
         }}
      ]
    }
  ]
}
